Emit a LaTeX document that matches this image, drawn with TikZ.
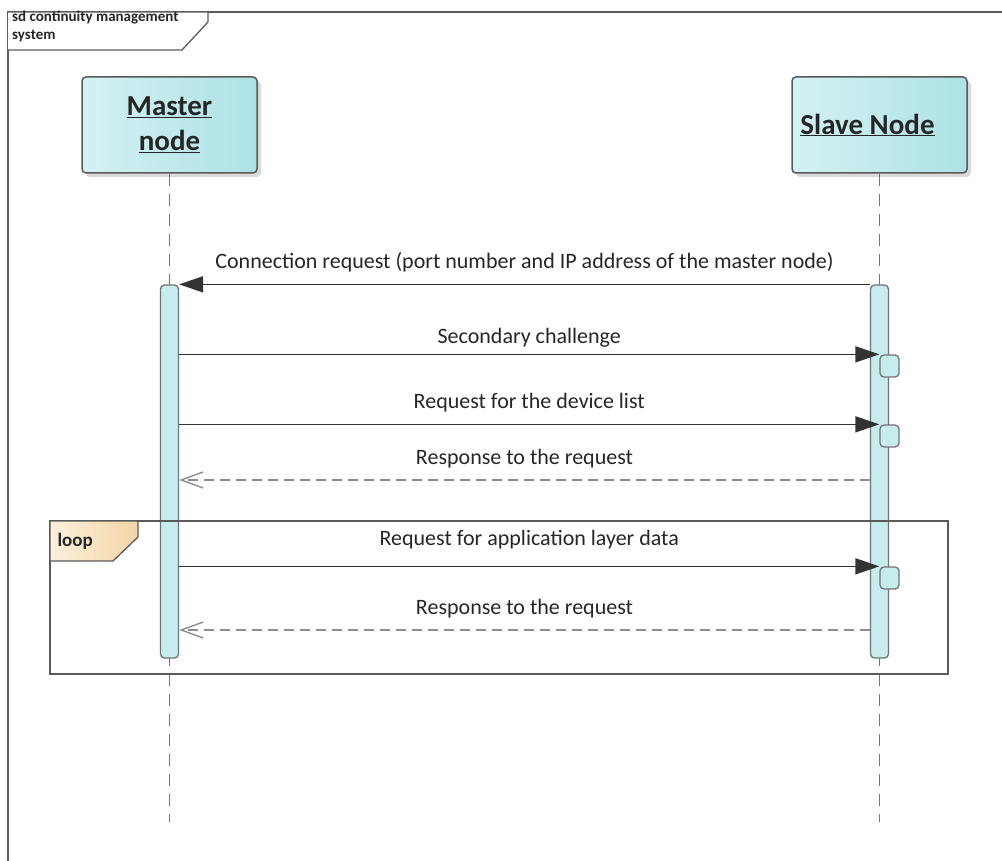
\documentclass[tikz,border=0pt]{standalone}
\usepackage{fontspec}
\setmainfont{Carlito}
\usetikzlibrary{arrows.meta,shadows}
\definecolor{boxleft}{HTML}{D4F1F3}
\definecolor{boxright}{HTML}{ADE2E6}
\definecolor{barcyan}{HTML}{C6ECEE}
\definecolor{loopleft}{HTML}{FCF0DC}
\definecolor{loopright}{HTML}{F3D5A6}
\definecolor{framegray}{HTML}{5A5A5A}
\begin{document}
\begin{tikzpicture}[x=1pt,y=-1pt,
  actor/.style={draw=black!65, line width=1.5pt, rounded corners=4pt,
    left color=boxleft, right color=boxright,
    drop shadow={shadow xshift=4pt, shadow yshift=-4pt, opacity=0.3},
    minimum width=175pt, minimum height=96pt, align=center,
    font=\fontsize{29}{35}\selectfont\bfseries, text=black!85},
  bar/.style={draw=black!55, line width=1.3pt, fill=barcyan, rounded corners=4pt,
    minimum width=18pt, inner sep=0pt},
  life/.style={draw=black!55, line width=1.6pt, dash pattern=on 12pt off 8pt},
  msg/.style={draw=black!80, line width=1.6pt, -{Triangle[length=24pt,width=16pt]}},
  ret/.style={draw=black!45, line width=1.6pt, dash pattern=on 10pt off 6pt,
    -{Straight Barb[length=22pt,width=16pt,line width=1.4pt]}},
  lbl/.style={font=\fontsize{22}{26}\selectfont, text=black!85, anchor=base, yshift=16pt}]
\useasboundingbox (0,0) rectangle (1002,861);
% frame
\draw[framegray, line width=1.6pt] (8,861) -- (8,12) -- (1002,12);
\draw[framegray, line width=1.3pt, fill=white] (8,12) -- (208,12) -- (208,22) -- (182,50) -- (8,50);
\node[anchor=north west, align=left, inner sep=0pt, font=\fontsize{15}{18}\selectfont\bfseries, text=black!85] (sd) at (12,11) {sd continuity management\\system};
% lifelines
\node[actor] (master) at (169.5,125) {\underline{Master}\\\underline{node}};
\node[actor] (slave) at (879.5,125) {\underline{Slave Node}\hspace*{24pt}};
\coordinate (mend) at (169.5,822);
\coordinate (send) at (879.5,822);
\path[life] (master.south) -- (mend);
\path[life] (slave.south) -- (send);
% activations
\node[bar, minimum height=373pt] (mbar) at (169.5,471.5) {};
\node[bar, minimum height=373pt] (sbar) at (879.5,471.5) {};
\node[bar, minimum width=19pt, minimum height=22pt] (s1) at (889.5,366) {};
\node[bar, minimum width=19pt, minimum height=22pt] (s2) at (889.5,436) {};
\node[bar, minimum width=19pt, minimum height=22pt] (s3) at (889.5,578) {};
% messages
\coordinate (r1) at (0,480);
\coordinate (r2) at (0,630);
\path[msg] (sbar.north west) -- node[lbl] {Connection request (port number and IP address of the master node)} (mbar.north east);
\path[msg] (mbar.east |- s1.north) -- node[lbl, yshift=-5pt] {Secondary challenge} (s1.north west);
\path[msg] (mbar.east |- s2.north) -- node[lbl] {Request for the device list} (s2.north west);
\path[ret] (sbar.west |- r1) -- node[lbl] {Response to the request} (mbar.east |- r1);
% loop
\draw[framegray, line width=2pt] (50,521) rectangle (948,674);
\draw[framegray, line width=1.3pt, left color=loopleft, right color=loopright] (50,521) -- (138,521) -- (138,537) -- (113,561) -- (50,561) -- cycle;
\node[anchor=west, font=\fontsize{19}{23}\selectfont\bfseries, text=black!85] (loop) at (54,541) {loop};
\path[msg] (mbar.east |- s3.north) -- node[lbl, yshift=5pt] {Request for application layer data} (s3.north west);
\path[ret] (sbar.west |- r2) -- node[lbl] {Response to the request} (mbar.east |- r2);
\end{tikzpicture}
\end{document}
